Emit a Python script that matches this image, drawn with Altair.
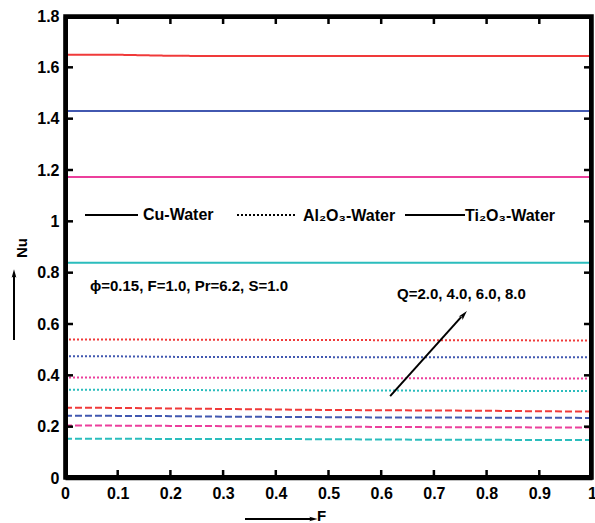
import altair as alt
import pandas as pd

F = [0.0, 0.1, 0.2, 0.3, 0.4, 0.5, 0.6, 0.7, 0.8, 0.9, 1.0]

cu_red = [1.649, 1.649, 1.645, 1.644, 1.644, 1.644, 1.644, 1.644, 1.644, 1.644, 1.644]
cu_blue = [1.430, 1.430, 1.430, 1.430, 1.430, 1.430, 1.430, 1.430, 1.430, 1.430, 1.430]
cu_pink = [1.173, 1.173, 1.173, 1.173, 1.173, 1.173, 1.173, 1.173, 1.173, 1.173, 1.173]
cu_cyan = [0.839, 0.839, 0.839, 0.839, 0.839, 0.839, 0.839, 0.839, 0.839, 0.839, 0.839]

al_red = [0.540, 0.540, 0.539, 0.539, 0.538, 0.538, 0.537, 0.537, 0.537, 0.536, 0.536]
al_blue = [0.474, 0.474, 0.472, 0.471, 0.471, 0.471, 0.470, 0.470, 0.470, 0.470, 0.470]
al_pink = [0.392, 0.392, 0.391, 0.391, 0.390, 0.390, 0.389, 0.389, 0.389, 0.388, 0.388]
al_cyan = [0.344, 0.344, 0.343, 0.342, 0.342, 0.341, 0.341, 0.340, 0.340, 0.339, 0.339]

ti_red = [0.274, 0.273, 0.271, 0.269, 0.267, 0.265, 0.264, 0.263, 0.262, 0.260, 0.259]
ti_blue = [0.243, 0.242, 0.241, 0.239, 0.238, 0.237, 0.236, 0.236, 0.235, 0.235, 0.234]
ti_pink = [0.205, 0.204, 0.203, 0.202, 0.201, 0.200, 0.199, 0.198, 0.198, 0.197, 0.197]
ti_cyan = [0.153, 0.153, 0.152, 0.152, 0.152, 0.151, 0.150, 0.149, 0.149, 0.148, 0.148]

series = {
    ("Cu", "Q2"): cu_red, ("Cu", "Q4"): cu_blue, ("Cu", "Q6"): cu_pink, ("Cu", "Q8"): cu_cyan,
    ("Al", "Q2"): al_red, ("Al", "Q4"): al_blue, ("Al", "Q6"): al_pink, ("Al", "Q8"): al_cyan,
    ("Ti", "Q2"): ti_red, ("Ti", "Q4"): ti_blue, ("Ti", "Q6"): ti_pink, ("Ti", "Q8"): ti_cyan,
}
q_levels = ["Q2", "Q4", "Q6", "Q8"]
q_colors = ["#f03a3a", "#4258b0", "#ec3f9c", "#2bbdbd"]
fluids = ["Cu", "Al", "Ti"]
fluid_dash = [[1, 0], [2, 2], [7, 3]]

x_ticks = [0.1, 0.2, 0.3, 0.4, 0.5, 0.6, 0.7, 0.8, 0.9]
y_ticks = [0.2, 0.4, 0.6, 0.8, 1.0, 1.2, 1.4, 1.6]

rows = []
for (fl, q), vals in series.items():
    for f, v in zip(F, vals):
        rows.append({"fluid": fl, "q": q, "sid": fl + q, "F": f, "Nu": v})
df = pd.DataFrame(rows)

W, H = 527, 462
xs = alt.Scale(domain=[0, 1], nice=False, zero=False)
ys = alt.Scale(domain=[0, 1.8], nice=False, zero=False)
FONT = "Liberation Sans"
LBL = "datum.value == 0 ? '0' : datum.value == 1 ? '1' : format(datum.value, '.1f')"

AX = dict(labelFontSize=16, labelFontWeight="bold", labelFont=FONT, labelColor="black", labelFlush=False,
          grid=False, title=None, labelExpr=LBL, domain=True, domainColor="black", domainWidth=3.5,
          ticks=False, zindex=1)

lines = alt.Chart(df).mark_line(strokeWidth=2).encode(
    x=alt.X("F:Q", scale=xs, axis=alt.Axis(values=[0, 0.1, 0.2, 0.3, 0.4, 0.5, 0.6, 0.7, 0.8, 0.9, 1.0],
                                           labelPadding=7, **AX)),
    y=alt.Y("Nu:Q", scale=ys, axis=alt.Axis(values=[0, 0.2, 0.4, 0.6, 0.8, 1.0, 1.2, 1.4, 1.6, 1.8],
                                            labelPadding=6, **AX)),
    color=alt.Color("q:N", scale=alt.Scale(domain=q_levels, range=q_colors), legend=None),
    strokeDash=alt.StrokeDash("fluid:N", scale=alt.Scale(domain=fluids, range=fluid_dash), legend=None),
    detail="sid:N",
)

one = pd.DataFrame({"a": [0]})


def rule(x1, y1, x2, y2, dash=None, width=2):
    kw = dict(color="black", strokeWidth=width)
    if dash:
        kw["strokeDash"] = dash
    return alt.Chart(one).mark_rule(**kw).encode(x=alt.value(x1), y=alt.value(y1), x2=alt.value(x2), y2=alt.value(y2))


def bar(x1, y1, x2, y2):
    return alt.Chart(one).mark_rect(color="black", opacity=1).encode(
        x=alt.value(x1), x2=alt.value(x2), y=alt.value(y1), y2=alt.value(y2))


# frame: thick bars just inside the plot edges
frame = [
    bar(0, 0, W, 3),
    bar(0, H - 3, W, H),
    bar(0, 0, 3, H),
    bar(W - 3, 0, W, H),
]


def txt(s, x, y, size=15, align="left", angle=0, baseline="middle"):
    kw = dict(font=FONT, fontWeight="bold", fontSize=size, align=align, baseline=baseline, color="black")
    if angle:
        kw["angle"] = angle
    return alt.Chart(one).mark_text(**kw).encode(x=alt.value(x), y=alt.value(y), text=alt.value(s))


ARROW = "M0,-1L0.5,0.8L0,0.4L-0.5,0.8Z"


def head(x, y, angle, size=70):
    return alt.Chart(one).mark_point(shape=ARROW, filled=True, color="black",
                                     size=size, opacity=1, angle=angle).encode(x=alt.value(x), y=alt.value(y))


leg_y = 199
legend = [
    rule(20, leg_y, 73, leg_y),
    txt("Cu-Water", 78, leg_y, size=16),
    rule(172, leg_y, 232, leg_y, dash=[2, 2]),
    txt("Al\u2082O\u2083-Water", 238, leg_y + 1, size=16),
    rule(340, leg_y, 400, leg_y),
    txt("Ti\u2082O\u2083-Water", 400, leg_y + 1, size=16),
]

qa = pd.DataFrame({"qx1": [0.617], "qy1": [0.319], "qx2": [0.752], "qy2": [0.628]})
q_line = alt.Chart(qa).mark_rule(color="black", strokeWidth=2).encode(
    x=alt.X("qx1:Q", scale=xs), y=alt.Y("qy1:Q", scale=ys), x2="qx2:Q", y2="qy2:Q")
q_head = alt.Chart(pd.DataFrame({"hx": [0.756], "hy": [0.635]})).mark_point(
    shape=ARROW, filled=True, color="black", size=110, opacity=1, angle=42).encode(
    x=alt.X("hx:Q", scale=xs), y=alt.Y("hy:Q", scale=ys))

# inward ticks
TL = 8
xt = pd.DataFrame({"xt": x_ticks})
yt = pd.DataFrame({"yt": y_ticks})
xt_bottom = alt.Chart(xt).mark_rule(color="black", strokeWidth=2.5).encode(
    x=alt.X("xt:Q", scale=xs), y=alt.value(H - 2), y2=alt.value(H - TL))
xt_top = alt.Chart(xt).mark_rule(color="black", strokeWidth=2.5).encode(
    x=alt.X("xt:Q", scale=xs), y=alt.value(2), y2=alt.value(TL))
yt_left = alt.Chart(yt).mark_rule(color="black", strokeWidth=2.5).encode(
    y=alt.Y("yt:Q", scale=ys), x=alt.value(2), x2=alt.value(TL))
yt_right = alt.Chart(yt).mark_rule(color="black", strokeWidth=2.5).encode(
    y=alt.Y("yt:Q", scale=ys), x=alt.value(W - 2), x2=alt.value(W - TL))

annots = [
    txt("\u03d5=0.15, F=1.0, Pr=6.2, S=1.0", 25, 270, size=15),
    txt("Q=2.0, 4.0, 6.0, 8.0", 332, 278, size=15),
    txt("Nu", -43, 232, size=15, align="center", angle=270),
    rule(-51, 324, -51, 258),
    head(-51, 258, 0, size=90),
    txt("F", 252, 505, size=15, baseline="alphabetic"),
    rule(180, 503, 246, 503),
    head(248, 503, 90, size=90),
]

chart = alt.layer(lines, *legend, q_line, q_head, *annots, *frame, xt_bottom, xt_top, yt_left, yt_right).properties(
    width=W, height=H,
    autosize=alt.AutoSizeParams(type="none"),
    padding={"left": 65, "top": 16, "right": 3, "bottom": 45},
    background="white",
).configure_view(stroke="black", strokeWidth=3.5)

chart.save("out.html", embed_options={"renderer": "svg", "actions": False})
